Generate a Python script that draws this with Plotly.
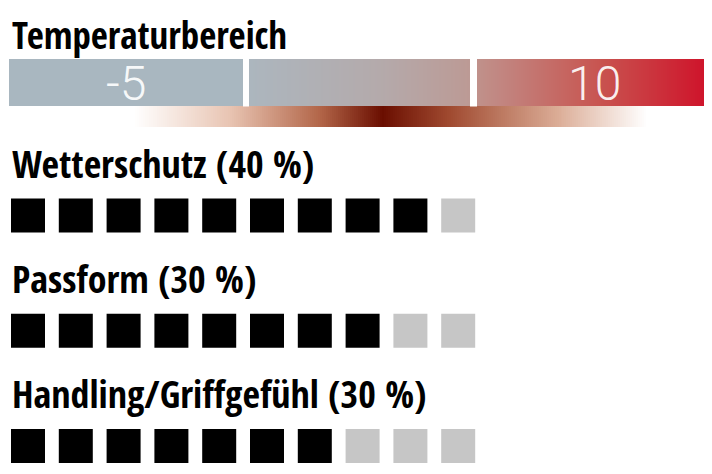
import numpy as np
import plotly.graph_objects as go

# Daten
titel = "Temperaturbereich"
temp_labels = ["-5", "", "10"]
kriterien = ["Wetterschutz (40 %)", "Passform (30 %)", "Handling/Griffgefühl (30 %)"]
punkte = [9, 8, 7]
max_punkte = 10

W, H = 712, 474
RAND = 8  # Body-Rand der Seite, wird ueber die Achsenbereiche ausgeglichen
SCHWARZ = "#000000"
GRAU = "#c6c6c6"
FONT_COND = "Open Sans Condensed, Roboto Condensed, sans-serif"

# Geometrie des Temperaturbalkens (Pixel)
bar_x0, bar_x1 = 9, 711
bar_y0, bar_y1 = 59, 106
segmente = [(9, 243), (249, 470), (477, 711)]
glow_x0, glow_x1 = 133, 648
glow_y1 = 127

# Quadrate
quad_x0 = 28       # Mitte des ersten Quadrats
quad_step = 47.8
quad_size = 34
zeile_y0 = 215.5
zeile_step = 115.3


def pos(px, a=bar_x0, b=bar_x1):
    return (px - a) / (b - a)


fig = go.Figure()

# Temperaturbalken als Farbverlauf
kanten = np.linspace(bar_x0, bar_x1, 352)
mitte = (kanten[:-1] + kanten[1:]) / 2
skala_balken = [
    [0, "#a9b7c0"], [pos(243), "#a9b7c0"],
    [pos(249), "#acb6be"], [pos(380), "#b4aaab"], [pos(470), "#bc9a95"],
    [pos(477), "#c0928c"], [pos(600), "#c85450"], [1, "#cf1129"],
]
fig.add_trace(go.Heatmap(x=kanten, y=[bar_y0, bar_y1], z=[mitte], colorscale=skala_balken,
                         showscale=False, hoverinfo="skip"))

# Schimmer unter dem Balken
gk = np.linspace(glow_x0, glow_x1, 260)
gm = (gk[:-1] + gk[1:]) / 2
skala_glow = [
    [0, "#ffffff"], [pos(230, glow_x0, glow_x1), "#e8c4b2"],
    [pos(320, glow_x0, glow_x1), "#b26548"], [pos(382, glow_x0, glow_x1), "#6a0e00"],
    [pos(450, glow_x0, glow_x1), "#a04a30"], [pos(560, glow_x0, glow_x1), "#dcae98"],
    [1, "#ffffff"],
]
fig.add_trace(go.Heatmap(x=gk, y=[bar_y1, glow_y1], z=[gm], colorscale=skala_glow,
                         showscale=False, hoverinfo="skip"))

# weisse Trennfugen
for (a, b), (c, d) in zip(segmente[:-1], segmente[1:]):
    fig.add_shape(type="rect", x0=b, x1=c, y0=bar_y0 - 1, y1=bar_y1 + 0.5,
                  fillcolor="white", line_width=0, layer="above")

for (a, b), txt in zip(segmente, temp_labels):
    if txt:
        fig.add_annotation(x=(a + b) / 2, y=(bar_y0 + bar_y1) / 2 + 1, text=txt, showarrow=False,
                           font=dict(family="Roboto, Open Sans, sans-serif", size=48, weight=300,
                                     color="rgba(255,255,255,0.92)"))

# Titel
fig.add_annotation(x=10, y=34, text=titel, showarrow=False, xanchor="left", yanchor="middle",
                   font=dict(family=FONT_COND, size=37, weight="bold", color=SCHWARZ))

# Bewertungen
for i, (name, p) in enumerate(zip(kriterien, punkte)):
    y = zeile_y0 + i * zeile_step
    fig.add_annotation(x=10, y=y - 53, text=name, showarrow=False, xanchor="left", yanchor="middle",
                       font=dict(family=FONT_COND, size=38, weight="bold", color=SCHWARZ))
    farben = [SCHWARZ if k < p else GRAU for k in range(max_punkte)]
    fig.add_trace(go.Scatter(x=list(range(max_punkte)), y=[y] * max_punkte, xaxis="x2",
                             mode="markers", hoverinfo="skip",
                             marker=dict(symbol="square", size=quad_size, color=farben, line_width=0)))

fig.update_layout(
    width=W - RAND, height=H - RAND, margin=dict(l=0, r=0, t=0, b=0),
    paper_bgcolor="white", plot_bgcolor="white", showlegend=False,
    xaxis=dict(range=[RAND, W], visible=False, fixedrange=True),
    xaxis2=dict(range=[(RAND - quad_x0) / quad_step, (W - quad_x0) / quad_step], overlaying="x",
                visible=False, fixedrange=True),
    yaxis=dict(range=[H, RAND], visible=False, fixedrange=True),
)

fig.write_html("out.html", config={"displayModeBar": False})
